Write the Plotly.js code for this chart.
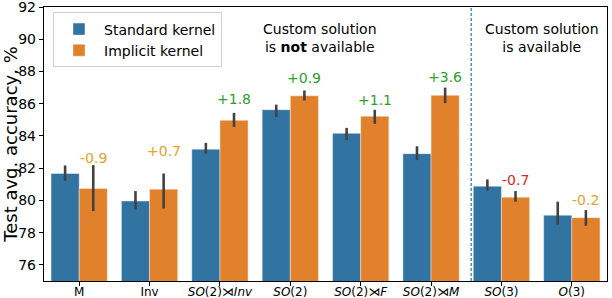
<!DOCTYPE html>
<html>
<head>
<meta charset="utf-8">
<script src="https://cdn.plot.ly/plotly-3.0.1.min.js"></script>
<style>html,body{margin:0;padding:0;background:#fff;}#chart{width:612px;height:298px;}</style>
</head>
<body>
<div id="chart"></div>
<script>
const categories = ["M", "Inv", "<i>SO</i>(2)⋊<i>Inv</i>", "<i>SO</i>(2)", "<i>SO</i>(2)⋊<i>F</i>", "<i>SO</i>(2)⋊<i>M</i>", "<i>SO</i>(3)", "<i>O</i>(3)"];
const standardMean = [81.67, 79.96, 83.18, 85.63, 84.16, 82.90, 80.88, 79.08];
const standardHigh = [82.17, 80.58, 83.57, 85.94, 84.50, 83.36, 81.30, 79.92];
const standardLow  = [81.21, 79.44, 82.90, 85.17, 83.74, 82.50, 80.60, 78.50];
const implicitMean = [80.74, 80.70, 84.97, 86.49, 85.22, 86.52, 80.20, 78.93];
const implicitHigh = [82.19, 81.67, 85.43, 86.82, 85.62, 87.00, 80.58, 79.40];
const implicitLow  = [79.34, 79.50, 84.56, 86.20, 84.75, 86.04, 79.92, 78.43];
const diffLabels = ["-0.9", "+0.7", "+1.8", "+0.9", "+1.1", "+3.6", "-0.7", "-0.2"];
const diffLabelY = [82.62, 83.04, 86.30, 87.57, 86.25, 87.66, 81.29, 80.05];
const diffColors = ["#e3a32b", "#e3a32b", "#2ca02c", "#2ca02c", "#2ca02c", "#2ca02c", "#d62728", "#e3a32b"];
const yTicks = [76, 78, 80, 82, 84, 86, 88, 90, 92];
const dividerX = 5.57;

const FONT = "DejaVu Sans, Liberation Sans, sans-serif";

function errs(mean, hi, lo) {
  return {
    type: "data", symmetric: false,
    array: hi.map((h, i) => h - mean[i]),
    arrayminus: lo.map((l, i) => mean[i] - l),
    color: "#424242", thickness: 2.6, width: 0
  };
}

const traces = [
  {
    type: "bar", name: "Standard kernel", x: categories, y: standardMean,
    marker: {color: "#3274a1", line: {color: "rgba(255,255,255,0.5)", width: 0.8}},
    error_y: errs(standardMean, standardHigh, standardLow), hoverinfo: "y"
  },
  {
    type: "bar", name: "Implicit kernel", x: categories, y: implicitMean,
    marker: {color: "#e1812c", line: {color: "rgba(255,255,255,0.5)", width: 0.8}},
    error_y: errs(implicitMean, implicitHigh, implicitLow), hoverinfo: "y"
  }
];

const annotations = diffLabels.map((t, i) => ({
  x: i + 0.2, y: diffLabelY[i], xref: "x", yref: "y", text: t,
  showarrow: false, font: {family: FONT, size: 14, color: diffColors[i]},
  xanchor: "center", yanchor: "middle"
}));
annotations.push({
  x: 3.42, y: 90.08, xref: "x", yref: "y",
  text: "Custom solution<br>is <b>not</b> available", showarrow: false,
  font: {family: FONT, size: 14, color: "#000"}, xanchor: "center", yanchor: "middle"
});
annotations.push({
  x: 6.58, y: 90.08, xref: "x", yref: "y",
  text: "Custom solution<br>is available", showarrow: false,
  font: {family: FONT, size: 14, color: "#000"}, xanchor: "center", yanchor: "middle"
});

const layout = {
  width: 612, height: 298,
  margin: {l: 44, r: 5, t: 7, b: 17},
  paper_bgcolor: "#fff", plot_bgcolor: "#fff",
  font: {family: FONT, color: "#000"},
  barmode: "group", bargap: 0.2, bargroupgap: 0,
  showlegend: true,
  legend: {
    x: 0.016, y: 0.98, xanchor: "left", yanchor: "top",
    bgcolor: "rgba(255,255,255,0.85)", bordercolor: "#d0d0d0", borderwidth: 1,
    font: {family: FONT, size: 14, color: "#000"}, tracegroupgap: 0,
    itemwidth: 40
  },
  xaxis: {
    type: "category", showline: true, linecolor: "#000", linewidth: 1.2, mirror: true,
    ticks: "outside", ticklen: 4, tickcolor: "#000", tickfont: {family: FONT, size: 12, color: "#000"},
    ticklabelstandoff: -5,
    showgrid: false, zeroline: false
  },
  yaxis: {
    range: [75, 92], tickvals: yTicks, ticklabeloverflow: "allow",
    showline: true, linecolor: "#000", linewidth: 1.2, mirror: true,
    ticks: "outside", ticklen: 4, tickcolor: "#000", tickfont: {family: FONT, size: 14, color: "#000"},
    showgrid: false, zeroline: false,
    title: {text: "Test avg. accuracy, %", font: {family: FONT, size: 18, color: "#000"}, standoff: 0}
  },
  shapes: [{
    type: "line", xref: "x", yref: "paper", x0: dividerX, x1: dividerX, y0: 0, y1: 1,
    line: {color: "#1f77b4", width: 1.2, dash: "3px,2px"}
  }],
  annotations: annotations
};

Plotly.newPlot("chart", traces, layout, {displayModeBar: false, staticPlot: true});
</script>
</body>
</html>
